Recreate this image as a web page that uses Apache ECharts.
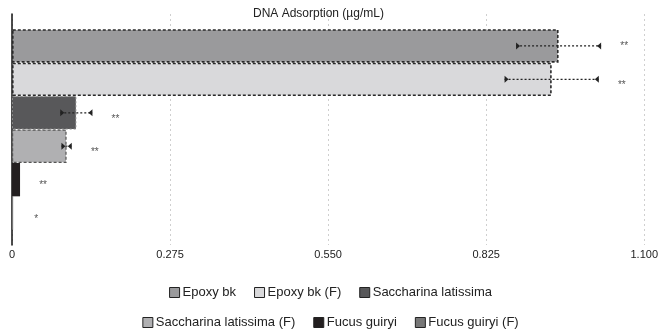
<!DOCTYPE html>
<html><head><meta charset="utf-8">
<script src="https://cdn.jsdelivr.net/npm/echarts@6/dist/echarts.min.js"></script>
<style>html,body{margin:0;padding:0;background:#fff}#c{width:661px;height:335px}</style>
</head><body><div id="c"></div>
<script>
const category = ['DNA Adsorption'];
const seriesNames = ['Epoxy bk','Epoxy bk (F)','Saccharina latissima','Saccharina latissima (F)','Fucus guiryi','Fucus guiryi (F)'];
const means = [0.951, 0.939, 0.112, 0.095, 0.014, 0.002];
const errors = [0.074, 0.082, 0.028, 0.009, 0, 0];
const significance = ['**','**','**','**','**','*'];
const xTicks = [0, 0.275, 0.550, 0.825, 1.100];

const FONT = 'Liberation Sans, Arial, sans-serif';
const GAP = 0.132;
const styles = [
  {color:'#9a9a9c', borderColor:'#2a2a2a', borderWidth:1.6, borderType:[3,2]},
  {color:'#d9d9db', borderColor:'#2a2a2a', borderWidth:1.6, borderType:[3,2]},
  {color:'#58585a', borderColor:'#8a8a8a', borderWidth:1, borderType:[2,2]},
  {color:'#b0b0b2', borderColor:'#555555', borderWidth:1.2, borderType:[3,2]},
  {color:'#231f20', borderColor:'#231f20', borderWidth:0},
  {color:'#777777', borderColor:'#777777', borderWidth:0}
];

const barSeries = seriesNames.map((n, i) => ({
  type: 'bar', name: n, data: [means[i]],
  barGap: '0%', barCategoryGap: (GAP*100) + '%',
  itemStyle: styles[i], emphasis: {disabled: true}, z: 2
}));

const errData = means.map((m, i) => [0, m - errors[i], m + errors[i], m, i]);

const errSeries = {
  type: 'custom', name: 'err', coordinateSystem: 'cartesian2d', z: 5,
  encode: {y: 0, x: [1, 2, 3]},
  data: errData,
  renderItem: function (params, api) {
    const lo = api.value(1), hi = api.value(2), m = api.value(3), i = api.value(4);
    const center = api.coord([0, 0]);
    const band = api.size([0, 1])[1];
    const total = band * (1 - GAP);
    const bw = total / seriesNames.length;
    const y = center[1] - total / 2 + (i + 0.5) * bw;
    const xlo = api.coord([lo, 0])[0];
    const xhi = api.coord([hi, 0])[0];
    const xm = api.coord([m, 0])[0];
    const children = [];
    if (hi - lo > 0) {
      children.push({type:'line', shape:{x1:xlo, y1:y, x2:xhi, y2:y}, style:{stroke:'#222', lineWidth:1.2, lineDash:[2,2]}});
      children.push({type:'polygon', shape:{points:[[xlo, y-3.5],[xlo+4, y],[xlo, y+3.5]]}, style:{fill:'#222'}});
      children.push({type:'polygon', shape:{points:[[xhi, y-3.5],[xhi-4, y],[xhi, y+3.5]]}, style:{fill:'#222'}});
    }
    const sx = Math.max(xhi, xm) + 23;
    const dy = i === 0 ? 0 : 6;
    children.push({type:'text', x: sx, y: y + dy, style:{text: significance[i], fill:'#555', font:'10px ' + FONT, align:'center', verticalAlign:'middle'}});
    return {type:'group', children: children};
  }
};

const legendBase = {
  left: 'center', itemGap: 18, itemWidth: 10, itemHeight: 10,
  icon: 'rect', padding: [0, 12, 0, 0],
  textStyle: {fontSize: 13, color: '#222', fontFamily: FONT, padding: [0, 0, 0, -2]}
};
const legendItem = (n) => {
  const i = seriesNames.indexOf(n);
  return {name: n, itemStyle: {color: styles[i].color, borderColor: '#222', borderWidth: 1, borderType: 'solid'}};
};

const chart = echarts.init(document.getElementById('c'));
chart.setOption({
  animation: false,
  textStyle: {fontFamily: FONT},
  title: {text: 'DNA Adsorption (µg/mL)', left: 253, top: 8, padding: 0,
    textStyle: {fontSize: 12, fontWeight: 'normal', color: '#222', fontFamily: FONT}},
  grid: {left: 12, right: 14, top: 14, bottom: 90, containLabel: false},
  xAxis: {
    type: 'value', min: xTicks[0], max: xTicks[xTicks.length-1], interval: xTicks[1] - xTicks[0],
    axisLine: {show: false}, axisTick: {show: false},
    splitLine: {show: true, lineStyle: {color: '#cfcfcf', type: [2,3], width: 1}},
    axisLabel: {margin: 4, fontSize: 11, color: '#222', fontFamily: FONT,
      formatter: v => v === 0 ? '0' : v.toFixed(3)}
  },
  yAxis: {
    type: 'category', data: category,
    axisLine: {show: true, lineStyle: {color: '#111', width: 1.5}},
    axisTick: {show: false}, axisLabel: {show: false}, splitLine: {show: false}
  },
  legend: [
    Object.assign({}, legendBase, {top: 286, data: seriesNames.slice(0, 3).map(legendItem)}),
    Object.assign({}, legendBase, {top: 316, data: seriesNames.slice(3).map(legendItem)})
  ],
  series: barSeries.concat([errSeries])
});
</script></body></html>
